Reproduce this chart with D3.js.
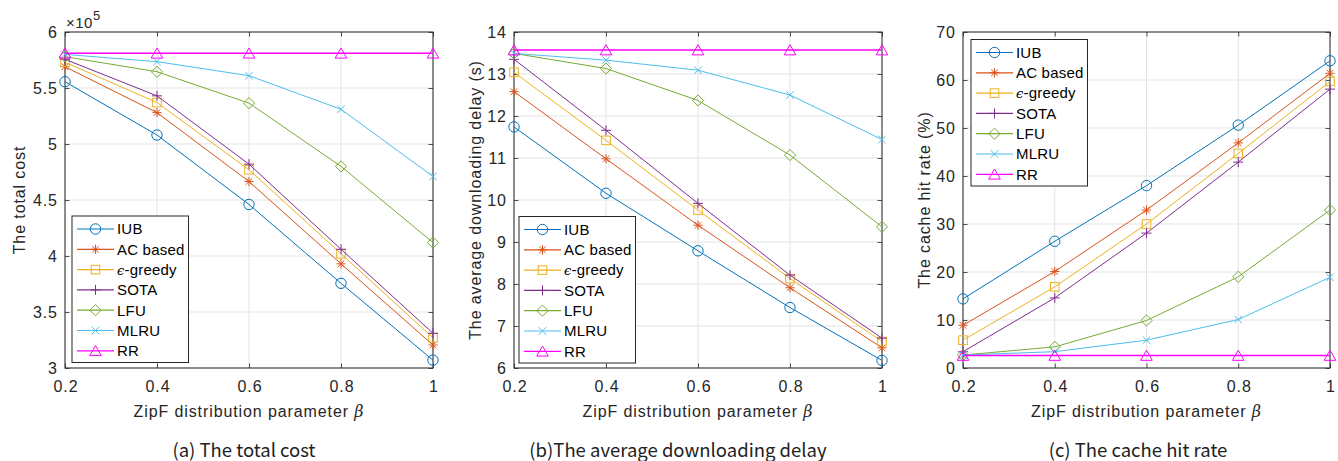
<!DOCTYPE html>
<html>
<head>
<meta charset="utf-8">
<script src="https://cdn.jsdelivr.net/npm/d3@7"></script>
<style>
  html, body { margin: 0; padding: 0; background: #fff; }
  svg { display: block; }
</style>
</head>
<body>
<svg id="chart" width="1338" height="461"></svg>
<script>
// ---------------- data ----------------
const beta = [0.2, 0.4, 0.6, 0.8, 1];
const seriesNames = ["IUB", "AC based", "ϵ-greedy", "SOTA", "LFU", "MLRU", "RR"];

// (a) total cost (x10^5)
const costIUB  = [5.556, 5.08, 4.46, 3.756, 3.07];
const costAC   = [5.69, 5.28, 4.665, 3.93, 3.205];
const costEps  = [5.73, 5.37, 4.77, 4.02, 3.27];
const costSOTA = [5.756, 5.43, 4.82, 4.06, 3.31];
const costLFU  = [5.78, 5.645, 5.365, 4.80, 4.12];
const costMLRU = [5.80, 5.735, 5.61, 5.31, 4.71];
const costRR   = [5.81, 5.81, 5.81, 5.81, 5.81];

// (b) average downloading delay (s)
const delayIUB  = [11.74, 10.16, 8.79, 7.44, 6.18];
const delayAC   = [12.58, 10.98, 9.40, 7.91, 6.48];
const delayEps  = [13.04, 11.42, 9.76, 8.13, 6.63];
const delaySOTA = [13.35, 11.66, 9.92, 8.21, 6.71];
const delayLFU  = [13.49, 13.13, 12.37, 11.07, 9.36];
const delayMLRU = [13.49, 13.33, 13.09, 12.50, 11.44];
const delayRR   = [13.57, 13.57, 13.57, 13.57, 13.57];

// (c) cache hit rate (%)
const hitIUB  = [14.4, 26.4, 38.0, 50.6, 64.0];
const hitAC   = [8.9, 20.1, 32.9, 46.9, 61.4];
const hitEps  = [5.8, 16.9, 30.0, 44.7, 59.7];
const hitSOTA = [3.4, 14.6, 28.1, 42.9, 58.1];
const hitLFU  = [2.7, 4.4, 9.9, 19.0, 32.9];
const hitMLRU = [2.7, 3.4, 5.8, 10.1, 18.9];
const hitRR   = [2.6, 2.6, 2.6, 2.6, 2.6];

// tick labels
const xTicks = [0.2, 0.4, 0.6, 0.8, 1];
const costTicks = [3, 3.5, 4, 4.5, 5, 5.5, 6];
const delayTicks = [6, 7, 8, 9, 10, 11, 12, 13, 14];
const hitTicks = [0, 10, 20, 30, 40, 50, 60, 70];

// ---------------- styles ----------------
const colors = ["#0072BD", "#D95319", "#EDB120", "#7E2F8E", "#77AC30", "#4DBEEE", "#FF00FF"];
const widths = [1, 1, 1, 1, 1, 1, 1.6];
const markers = ["circle", "asterisk", "square", "plus", "diamond", "x", "triangle"];
const FONT = '"Liberation Sans", Arial, Helvetica, sans-serif';
const AXC = "#262626";
const GRIDC = "#e3e3e3";
const LBL = 16;      // axis font size
const LS = "0.9px";  // letter spacing

const panels = [
  { left: 65, right: 433, top: 32, bottom: 368, domain: [3, 6], ticks: costTicks,
    series: [costIUB, costAC, costEps, costSOTA, costLFU, costMLRU, costRR],
    ylabel: "The total cost", ylabelX: 25,
    legend: { x: 72, y: 216 }, caption: "(a) The total cost", captionX: 244, exponent: true },
  { left: 514, right: 882, top: 32, bottom: 368, domain: [6, 14], ticks: delayTicks,
    series: [delayIUB, delayAC, delayEps, delaySOTA, delayLFU, delayMLRU, delayRR],
    ylabel: "The average downloading delay (s)", ylabelX: 481,
    legend: { x: 519, y: 216.5 }, caption: "(b)The average downloading delay", captionX: 678 },
  { left: 963, right: 1330, top: 32, bottom: 368, domain: [0, 70], ticks: hitTicks,
    series: [hitIUB, hitAC, hitEps, hitSOTA, hitLFU, hitMLRU, hitRR],
    ylabel: "The cache hit rate (%)", ylabelX: 930,
    legend: { x: 971, y: 39.5 }, caption: "(c) The cache hit rate", captionX: 1138 }
];

const svg = d3.select("#chart");

function drawMarker(g, type, cx, cy, color) {
  const m = g.append("g").attr("transform", `translate(${cx},${cy})`)
    .attr("fill", "none").attr("stroke", color).attr("stroke-width", 1);
  if (type === "circle") m.append("circle").attr("r", 5.2);
  else if (type === "square") m.append("rect").attr("x", -4.3).attr("y", -4.3).attr("width", 8.6).attr("height", 8.6);
  else if (type === "diamond") m.append("path").attr("d", "M0,-5.6L5.6,0L0,5.6L-5.6,0Z");
  else if (type === "triangle") m.append("path").attr("d", "M0,-5.3L5.8,4.8L-5.8,4.8Z");
  else if (type === "plus") m.append("path").attr("d", "M-5,0H5M0,-5V5");
  else if (type === "x") m.append("path").attr("d", "M-3.8,-3.8L3.8,3.8M-3.8,3.8L3.8,-3.8");
  else if (type === "asterisk") m.append("path").attr("d", "M-4.6,0H4.6M0,-4.6V4.6M-3.3,-3.3L3.3,3.3M-3.3,3.3L3.3,-3.3");
}

panels.forEach(p => {
  const x = d3.scaleLinear().domain([0.2, 1]).range([p.left, p.right]);
  const y = d3.scaleLinear().domain(p.domain).range([p.bottom, p.top]);
  const g = svg.append("g");

  // grid
  g.append("g").selectAll("line").data(xTicks).join("line")
    .attr("x1", d => x(d)).attr("x2", d => x(d)).attr("y1", p.top).attr("y2", p.bottom)
    .attr("stroke", GRIDC).attr("stroke-width", 1);
  g.append("g").selectAll("line").data(p.ticks).join("line")
    .attr("x1", p.left).attr("x2", p.right).attr("y1", d => y(d)).attr("y2", d => y(d))
    .attr("stroke", GRIDC).attr("stroke-width", 1);

  // axes
  const fmt = d3.format("~g");
  const ax = g.append("g").attr("transform", `translate(0,${p.bottom})`)
    .call(d3.axisBottom(x).tickValues(xTicks).tickFormat(fmt).tickSizeInner(-4.5).tickSizeOuter(0).tickPadding(13));
  const axTop = g.append("g").attr("transform", `translate(0,${p.top})`)
    .call(d3.axisTop(x).tickValues(xTicks).tickFormat("").tickSizeInner(-4.5).tickSizeOuter(0));
  const ay = g.append("g").attr("transform", `translate(${p.left},0)`)
    .call(d3.axisLeft(y).tickValues(p.ticks).tickFormat(fmt).tickSizeInner(-4.5).tickSizeOuter(0).tickPadding(8));
  const ayR = g.append("g").attr("transform", `translate(${p.right},0)`)
    .call(d3.axisRight(y).tickValues(p.ticks).tickFormat("").tickSizeInner(-4.5).tickSizeOuter(0));
  [ax, axTop, ay, ayR].forEach(a => {
    a.select(".domain").remove();
    a.selectAll(".tick line").attr("stroke", AXC).attr("stroke-width", 0.8);
    a.attr("font-family", FONT).attr("font-size", LBL);
    a.selectAll(".tick text").attr("fill", AXC).attr("letter-spacing", LS)
      .attr("font-family", FONT).attr("font-size", LBL);
  });
  ax.selectAll(".tick text").attr("dx", "0.45px");
  ay.selectAll(".tick text").attr("dx", "0.9px");

  // box
  g.append("rect").attr("x", p.left).attr("y", p.top)
    .attr("width", p.right - p.left).attr("height", p.bottom - p.top)
    .attr("fill", "none").attr("stroke", AXC).attr("stroke-width", 1);

  // series
  const line = d3.line().x((d, i) => x(beta[i])).y(d => y(d));
  p.series.forEach((s, k) => {
    g.append("path").datum(s).attr("d", line)
      .attr("fill", "none").attr("stroke", colors[k]).attr("stroke-width", widths[k]);
    s.forEach((v, i) => drawMarker(g, markers[k], x(beta[i]), y(v), colors[k]));
  });

  // legend
  const lg = g.append("g").attr("transform", `translate(${p.legend.x},${p.legend.y})`);
  const rowH = 20.3;
  lg.append("rect").attr("x", 0).attr("y", 0).attr("width", 116.5).attr("height", 146.5)
    .attr("fill", "#fff").attr("stroke", AXC).attr("stroke-width", 1);
  seriesNames.forEach((name, k) => {
    const ry = 13 + k * rowH;
    lg.append("line").attr("x1", 5).attr("x2", 42).attr("y1", ry).attr("y2", ry)
      .attr("stroke", colors[k]).attr("stroke-width", 1.2);
    drawMarker(lg, markers[k], 23.5, ry, colors[k]);
    const t = lg.append("text").attr("x", 45).attr("y", ry + 5.3)
      .attr("font-family", FONT).attr("font-size", 15).attr("fill", "#000").attr("letter-spacing", "0.2px");
    if (name.startsWith("ϵ")) {
      t.append("tspan").attr("font-family", '"DejaVu Serif", serif').attr("font-style", "italic").attr("font-size", 13).text("ϵ");
      t.append("tspan").text(name.slice(1));
    } else t.text(name);
  });

  // x label
  const xl = svg.append("text").attr("x", (p.left + p.right) / 2).attr("y", 416.5)
    .attr("text-anchor", "middle").attr("font-family", FONT).attr("font-size", LBL)
    .attr("fill", AXC).attr("letter-spacing", LS);
  xl.append("tspan").text("ZipF distribution parameter ");
  xl.append("tspan").attr("font-family", '"DejaVu Serif", serif').attr("font-style", "italic").text("β");

  // y label
  svg.append("text").attr("transform", `translate(${p.ylabelX},${(p.top + p.bottom) / 2}) rotate(-90)`)
    .attr("text-anchor", "middle").attr("font-family", FONT).attr("font-size", LBL)
    .attr("fill", AXC).attr("letter-spacing", LS).text(p.ylabel);

  // exponent
  if (p.exponent) {
    const e = svg.append("text").attr("x", p.left + 1).attr("y", 28)
      .attr("font-family", FONT).attr("font-size", 15).attr("fill", AXC).attr("letter-spacing", "0.5px");
    e.append("tspan").text("×10");
    e.append("tspan").attr("dy", -8).attr("font-size", 13).text("5");
  }

  // caption
  svg.append("text").attr("x", p.captionX).attr("y", 456.5).attr("text-anchor", "middle")
    .attr("font-family", '"Noto Sans CJK SC", "Noto Sans", sans-serif').attr("font-size", 18.5)
    .attr("fill", "#222").text(p.caption);
});
</script>
</body>
</html>
